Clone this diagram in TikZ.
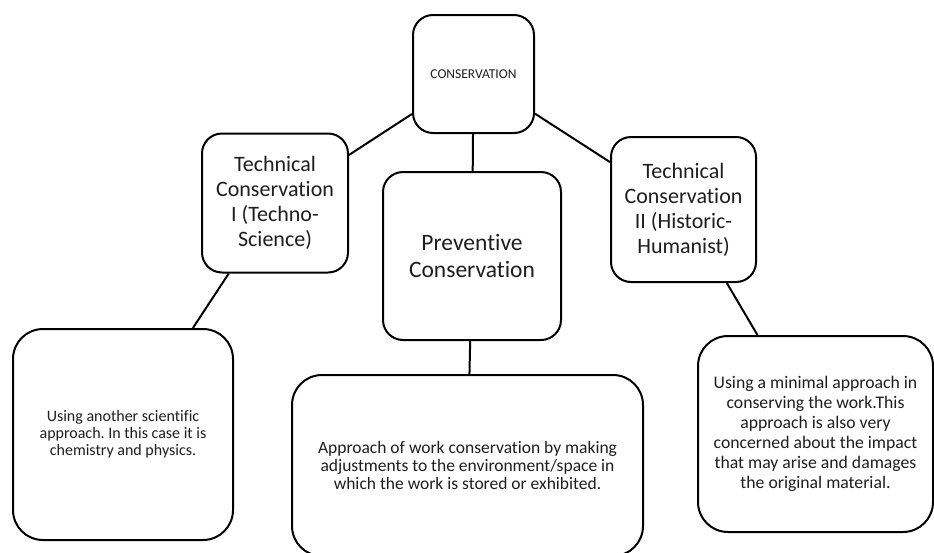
\documentclass[tikz,border=0pt]{standalone}
\usepackage{fontspec}
\setmainfont{Carlito}[Ligatures=NoCommon]
\frenchspacing
\definecolor{txt}{HTML}{1E1E1E}
\tikzset{
  box/.style={draw=black, line width=2pt, rounded corners=#1, rectangle, align=center, inner sep=0pt, text=txt, fill=white},
  box/.default=20pt,
  link/.style={draw=black, line width=2pt}
}
\begin{document}
\begin{tikzpicture}[x=1pt,y=-1pt]
\clip (0,0) rectangle (934,552);
\fill[white] (0,0) rectangle (934,552);
\node[box, minimum width=121pt, minimum height=118pt, font=\fontsize{13.5}{16}\selectfont] (cons) at (473.5,74) {CONSERVATION};
\node[box, minimum width=146pt, minimum height=139pt, font=\fontsize{22}{25}\selectfont] (t1) at (275,203) {Technical\\Conservation\\I (Techno-\\Science)};
\node[box, minimum width=178pt, minimum height=168pt, font=\fontsize{23.5}{27}\selectfont] (prev) at (472,256) {Preventive\\Conservation};
\node[box, minimum width=145pt, minimum height=145pt, font=\fontsize{22}{25}\selectfont] (t2) at (683.5,209.5) {Technical\\Conservation\\II (Historic-\\Humanist)};
\node[box=30pt, minimum width=220pt, minimum height=211pt, font=\fontsize{16}{16.8}\selectfont] (b1) at (123,434.5) {Using another scientific\\approach. In this case it is\\chemistry and physics.};
\node[box=30pt, minimum width=351pt, minimum height=181pt, font=\fontsize{17.5}{18.2}\selectfont] (b2) at (467.5,465.5) {Approach of work conservation by making\\adjustments to the environment/space in\\which the work is stored or exhibited.};
\node[box=30pt, minimum width=235pt, minimum height=196pt, font=\fontsize{17.7}{20}\selectfont] (b3) at (815.5,434) {Using a minimal approach in\\conserving the work.This\\approach is also very\\concerned about the impact\\that may arise and damages\\the original material.};
\draw[link] (cons) -- (t1);
\draw[link] (cons) -- (t2);
\draw[link] (cons) -- (prev);
\draw[link] (prev) -- (b2);
\draw[link] (t1) -- (b1);
\draw[link] (t2) -- (b3);
\end{tikzpicture}
\end{document}
